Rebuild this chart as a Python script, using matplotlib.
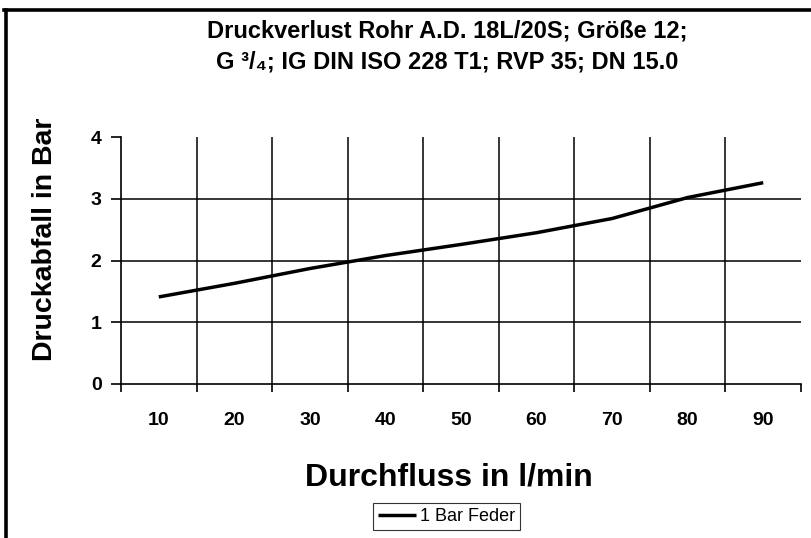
import matplotlib
matplotlib.use("Agg")
import matplotlib.pyplot as plt
from matplotlib.lines import Line2D
from matplotlib.ticker import FixedLocator

plt.rcParams['font.family'] = ['Liberation Sans', 'DejaVu Sans']

# Durchfluss (l/min) und Druckabfall (bar)
flow = [10, 20, 30, 40, 50, 60, 70, 80, 90]
drop = [1.41, 1.63, 1.87, 2.08, 2.26, 2.45, 2.68, 3.02, 3.26]
y_ticks = [0, 1, 2, 3, 4]
series_name = "1 Bar Feder"

fig = plt.figure(figsize=(8.12, 5.38), dpi=100)
ax = fig.add_axes([121 / 812, 154 / 538, 680 / 812, 247 / 538])

pos = list(range(len(flow)))
ax.plot(pos, drop, color='black', lw=2.5, solid_capstyle='butt', label=series_name, zorder=3)

ax.set_xlim(-0.5, len(flow) - 0.5)
ax.set_ylim(0, 4)

ax.set_xticks(pos)
ax.set_xticklabels([str(v) for v in flow], fontsize=14, fontweight='bold')
ax.tick_params(axis='x', which='major', length=0, pad=20)
ax.xaxis.set_minor_locator(FixedLocator([p - 0.5 for p in range(len(flow) + 1)]))
ax.tick_params(axis='x', which='minor', length=6, width=1.2, direction='out')

ax.set_yticks(y_ticks)
ax.set_yticklabels([str(v) for v in y_ticks], fontsize=14, fontweight='bold')
ax.tick_params(axis='y', length=7, width=1.2, pad=7)

# Gitterlinien
for y in y_ticks[1:-1]:
    ax.axhline(y, color='black', lw=1.1, zorder=1)
for p in range(len(flow) - 1):
    ax.axvline(p + 0.5, color='black', lw=1.1, zorder=1)

for side in ['top', 'right']:
    ax.spines[side].set_visible(False)
ax.spines['left'].set_linewidth(1.2)
ax.spines['bottom'].set_linewidth(1.2)

ax.set_xlabel("Durchfluss in l/min", fontsize=23, fontweight='bold')
ax.set_ylabel("Druckabfall in Bar", fontsize=20.5, fontweight='bold')
ax.xaxis.set_label_coords((449 - 121) / 680, -(462 - 384) / 247)
ax.yaxis.set_label_coords(-(121 - 58) / 680, (384 - 239) / 247)

fig.text(447 / 812, 1 - 31 / 538, "Druckverlust Rohr A.D. 18L/20S; Größe 12;",
         ha='center', va='center', fontsize=17, fontweight='bold')
fig.text(447 / 812, 1 - 62 / 538, "G ³/₄; IG DIN ISO 228 T1; RVP 35; DN 15.0",
         ha='center', va='center', fontsize=17, fontweight='bold')

leg = fig.legend(loc='center', bbox_to_anchor=(446.5 / 812, 1 - 516.5 / 538), frameon=True,
                 fancybox=False, edgecolor='black', fontsize=13, handlelength=2.1,
                 handletextpad=0.2, borderpad=0.3, borderaxespad=0)
leg.get_frame().set_linewidth(0.8)

# Rahmen oben und links
fig.add_artist(Line2D([5.5 / 812, 5.5 / 812], [0, 1 - 9.5 / 538], color='black', lw=2.6,
                      transform=fig.transFigure))
fig.add_artist(Line2D([4 / 812, 1], [1 - 9.5 / 538, 1 - 9.5 / 538], color='black', lw=2.6,
                      transform=fig.transFigure))

fig.savefig("out.png", dpi=100)
